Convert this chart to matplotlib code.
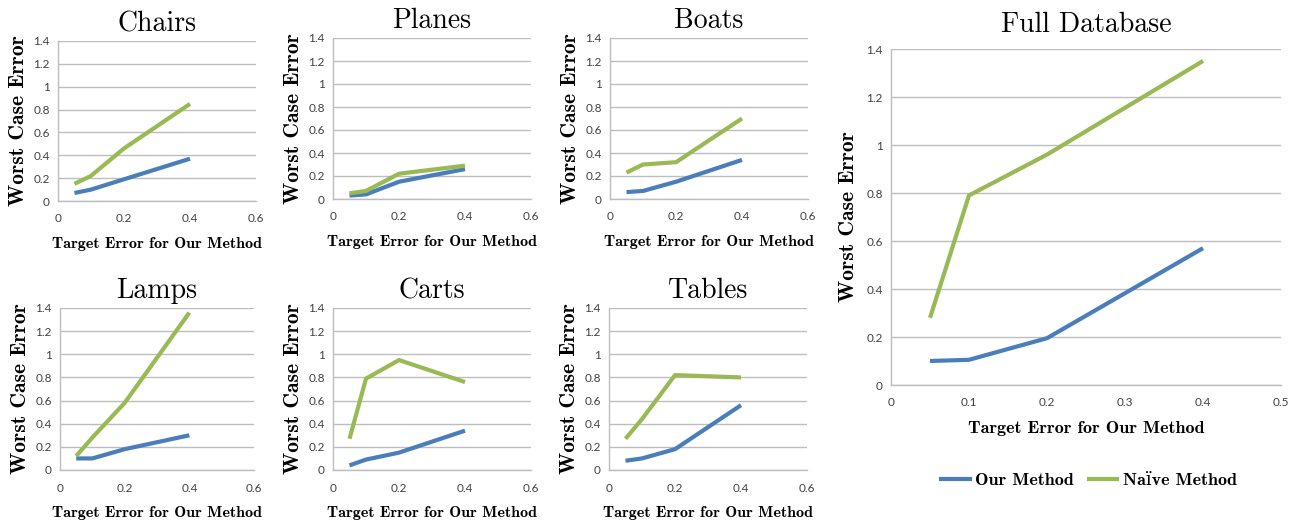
import matplotlib
matplotlib.use("Agg")
import matplotlib.pyplot as plt
from matplotlib.lines import Line2D

# ---- data ----
x_vals = [0.05, 0.1, 0.2, 0.4]
panel_names = ["Chairs", "Planes", "Boats", "Lamps", "Carts", "Tables", "Full Database"]
our_chairs = [0.07, 0.10, 0.19, 0.37]
naive_chairs = [0.15, 0.22, 0.46, 0.85]
our_planes = [0.03, 0.04, 0.15, 0.26]
naive_planes = [0.05, 0.07, 0.22, 0.29]
our_boats = [0.06, 0.07, 0.15, 0.34]
naive_boats = [0.23, 0.30, 0.32, 0.70]
our_lamps = [0.10, 0.10, 0.18, 0.30]
naive_lamps = [0.12, 0.28, 0.58, 1.36]
our_carts = [0.04, 0.09, 0.15, 0.34]
naive_carts = [0.27, 0.79, 0.95, 0.76]
our_tables = [0.08, 0.10, 0.18, 0.56]
naive_tables = [0.27, 0.44, 0.82, 0.80]
our_full = [0.10, 0.105, 0.195, 0.57]
naive_full = [0.28, 0.79, 0.96, 1.35]

y_ticks = [0, 0.2, 0.4, 0.6, 0.8, 1.0, 1.2, 1.4]
y_ticklabels = ["0", "0.2", "0.4", "0.6", "0.8", "1", "1.2", "1.4"]
x_ticks_small = [0, 0.2, 0.4, 0.6]
x_ticklabels_small = ["0", "0.2", "0.4", "0.6"]
x_ticks_full = [0, 0.1, 0.2, 0.3, 0.4, 0.5]
x_ticklabels_full = ["0", "0.1", "0.2", "0.3", "0.4", "0.5"]
series_labels = ["Our Method", "Naïve Method"]

BLUE = "#4a7ebb"
GREEN = "#98b954"
GRID = "#bdbdbd"
TICKC = "#404040"

W, H = 1298, 520
fig = plt.figure(figsize=(W / 100, H / 100), dpi=100)

def px_axes(l, r, top, bottom):
    return fig.add_axes([l / W, 1 - bottom / H, (r - l) / W, (bottom - top) / H])

TITLE_FONT = ["cmr10", "DejaVu Serif"]
LABEL_FONT = ["cmb10", "DejaVu Serif"]
TICK_FONT = ["Lato", "DejaVu Sans"]

def style(ax, xt, xtl, xmax, title, tpad, xlsize, xlpad, ylpad):
    ax.set_xlim(0, xmax)
    ax.set_ylim(0, 1.4)
    ax.set_xticks(xt)
    ax.set_xticklabels(xtl)
    ax.set_yticks(y_ticks)
    ax.set_yticklabels(y_ticklabels)
    for lab in ax.get_xticklabels() + ax.get_yticklabels():
        lab.set_fontfamily(TICK_FONT)
        lab.set_fontsize(8.5)
        lab.set_color(TICKC)
    ax.tick_params(length=0, pad=6)
    ax.tick_params(axis="x", pad=9)
    ax.grid(axis="y", color=GRID, lw=1.0)
    ax.set_axisbelow(True)
    for s in ["top", "right"]:
        ax.spines[s].set_visible(False)
    for s in ["left", "bottom"]:
        ax.spines[s].set_color(GRID)
        ax.spines[s].set_linewidth(1.0)
    ax.set_title(title, fontfamily=TITLE_FONT, fontsize=20, pad=tpad)
    ax.set_xlabel("Target Error for Our Method", fontfamily=LABEL_FONT, fontsize=xlsize, labelpad=xlpad)
    ax.set_ylabel("Worst Case Error", fontfamily=LABEL_FONT, fontsize=15.5, labelpad=ylpad)

small_pos = [
    (58, 256, 41, 201),
    (333, 531, 38, 199),
    (610, 808, 38, 199),
    (60, 254, 308, 470),
    (333, 531, 308, 470),
    (609, 807, 308, 470),
]
small_data = [
    (our_chairs, naive_chairs),
    (our_planes, naive_planes),
    (our_boats, naive_boats),
    (our_lamps, naive_lamps),
    (our_carts, naive_carts),
    (our_tables, naive_tables),
]

for (l, r, t, b), (ours, naive), name in zip(small_pos, small_data, panel_names[:6]):
    ax = px_axes(l, r, t, b)
    ax.plot(x_vals, ours, color=BLUE, lw=3.0, solid_capstyle="butt")
    ax.plot(x_vals, naive, color=GREEN, lw=3.0, solid_capstyle="butt")
    style(ax, x_ticks_small, x_ticklabels_small, 0.6, name, 7, 11.5, 9, 4)

ax = px_axes(891, 1281, 49, 385)
ax.plot(x_vals, our_full, color=BLUE, lw=3.0, solid_capstyle="butt")
ax.plot(x_vals, naive_full, color=GREEN, lw=3.0, solid_capstyle="butt")
style(ax, x_ticks_full, x_ticklabels_full, 0.5, panel_names[6], 12, 13, 9, 6)

handles = [Line2D([], [], color=BLUE, lw=3.0), Line2D([], [], color=GREEN, lw=3.0)]
fig.legend(handles, series_labels, loc="center", bbox_to_anchor=(1089 / W, 1 - 480 / H),
           ncol=2, frameon=False, prop={"family": LABEL_FONT, "size": 13},
           handlelength=1.6, handletextpad=0.3, columnspacing=0.8)

fig.savefig("out.png", dpi=100)
